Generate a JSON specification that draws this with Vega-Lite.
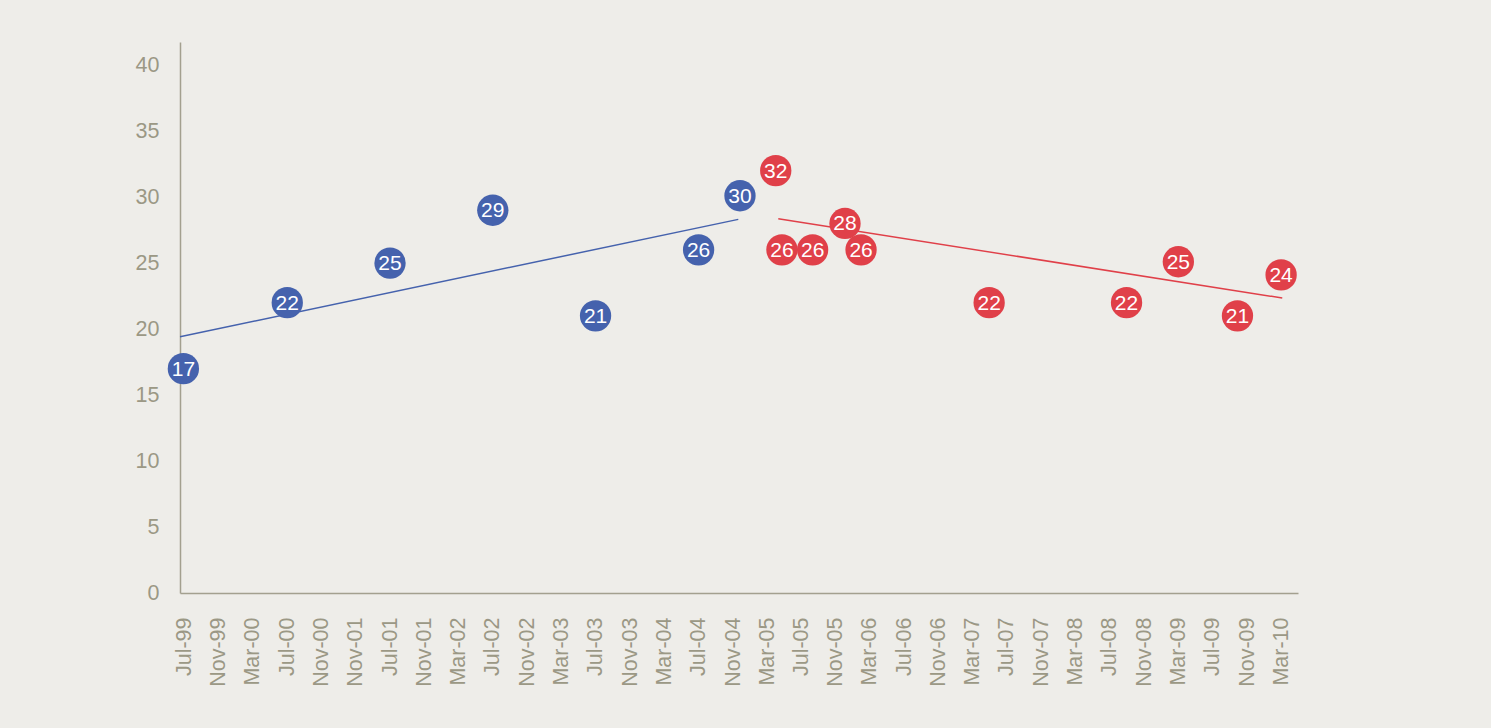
{
  "$schema": "https://vega.github.io/schema/vega-lite/v6.json",
  "width": 1118,
  "height": 551,
  "autosize": {"type": "none"},
  "padding": {"left": 180, "top": 42, "right": 193, "bottom": 135},
  "background": "#eeede9",
  "config": {
    "view": {"stroke": null},
    "font": "Liberation Sans",
    "axis": {
      "domainColor": "#a3a08f",
      "domainWidth": 1.5,
      "ticks": false,
      "grid": false,
      "labelColor": "#9b9885",
      "labelFont": "Liberation Sans",
      "labelFontSize": 21.5,
      "title": null
    }
  },
  "datasets": {
    "points": [
      {"date": "1999-06-28", "v": 17, "s": "a"},
      {"date": "2000-07-01", "v": 22, "s": "a"},
      {"date": "2001-07-01", "v": 25, "s": "a"},
      {"date": "2002-07-01", "v": 29, "s": "a"},
      {"date": "2003-07-01", "v": 21, "s": "a"},
      {"date": "2004-07-01", "v": 26, "s": "a"},
      {"date": "2004-11-25", "v": 30.1, "s": "a"},
      {"date": "2005-04-01", "v": 32, "s": "b"},
      {"date": "2005-04-23", "v": 26, "s": "b"},
      {"date": "2005-08-10", "v": 26, "s": "b"},
      {"date": "2005-12-03", "v": 28, "s": "b"},
      {"date": "2006-01-29", "v": 26, "s": "b"},
      {"date": "2007-04-29", "v": 22, "s": "b"},
      {"date": "2008-08-29", "v": 22, "s": "b"},
      {"date": "2009-03-01", "v": 25.1, "s": "b"},
      {"date": "2009-09-27", "v": 21, "s": "b"},
      {"date": "2010-03-01", "v": 24.1, "s": "b"}
    ],
    "trend": [
      {"date": "1999-06-16", "v": 19.42, "s": "a"},
      {"date": "2004-11-19", "v": 28.31, "s": "a"},
      {"date": "2005-04-10", "v": 28.36, "s": "b"},
      {"date": "2010-03-05", "v": 22.35, "s": "b"}
    ]
  },
  "encoding": {
    "x": {
      "field": "date",
      "type": "temporal",
      "scale": {
        "type": "utc",
        "domain": [
          {"year": 1999, "month": 6, "date": 16, "utc": true},
          {"year": 2010, "month": 4, "date": 30, "utc": true}
        ]
      },
      "axis": {
        "labelAngle": 270,
        "labelPadding": 24,
        "labelAlign": "right",
        "labelBaseline": "middle",
        "labelOverlap": false,
        "labelExpr": "utcFormat(datum.value, '%b-%y') == 'Mar-01' ? 'Nov-01' : utcFormat(datum.value, '%b-%y')",
        "values": [
          {"year": 1999, "month": 7, "date": 1, "utc": true},
          {"year": 1999, "month": 11, "date": 1, "utc": true},
          {"year": 2000, "month": 3, "date": 1, "utc": true},
          {"year": 2000, "month": 7, "date": 1, "utc": true},
          {"year": 2000, "month": 11, "date": 1, "utc": true},
          {"year": 2001, "month": 3, "date": 1, "utc": true},
          {"year": 2001, "month": 7, "date": 1, "utc": true},
          {"year": 2001, "month": 11, "date": 1, "utc": true},
          {"year": 2002, "month": 3, "date": 1, "utc": true},
          {"year": 2002, "month": 7, "date": 1, "utc": true},
          {"year": 2002, "month": 11, "date": 1, "utc": true},
          {"year": 2003, "month": 3, "date": 1, "utc": true},
          {"year": 2003, "month": 7, "date": 1, "utc": true},
          {"year": 2003, "month": 11, "date": 1, "utc": true},
          {"year": 2004, "month": 3, "date": 1, "utc": true},
          {"year": 2004, "month": 7, "date": 1, "utc": true},
          {"year": 2004, "month": 11, "date": 1, "utc": true},
          {"year": 2005, "month": 3, "date": 1, "utc": true},
          {"year": 2005, "month": 7, "date": 1, "utc": true},
          {"year": 2005, "month": 11, "date": 1, "utc": true},
          {"year": 2006, "month": 3, "date": 1, "utc": true},
          {"year": 2006, "month": 7, "date": 1, "utc": true},
          {"year": 2006, "month": 11, "date": 1, "utc": true},
          {"year": 2007, "month": 3, "date": 1, "utc": true},
          {"year": 2007, "month": 7, "date": 1, "utc": true},
          {"year": 2007, "month": 11, "date": 1, "utc": true},
          {"year": 2008, "month": 3, "date": 1, "utc": true},
          {"year": 2008, "month": 7, "date": 1, "utc": true},
          {"year": 2008, "month": 11, "date": 1, "utc": true},
          {"year": 2009, "month": 3, "date": 1, "utc": true},
          {"year": 2009, "month": 7, "date": 1, "utc": true},
          {"year": 2009, "month": 11, "date": 1, "utc": true},
          {"year": 2010, "month": 3, "date": 1, "utc": true}
        ]
      }
    },
    "y": {
      "field": "v",
      "type": "quantitative",
      "scale": {"domain": [0, 41.75], "nice": false, "zero": true},
      "axis": {"values": [0, 5, 10, 15, 20, 25, 30, 35, 40], "labelPadding": 21}
    },
    "color": {
      "field": "s",
      "type": "nominal",
      "scale": {"domain": ["a", "b"], "range": ["#4562ad", "#e04049"]},
      "legend": null
    }
  },
  "layer": [
    {
      "data": {"name": "trend"},
      "mark": {"type": "line", "strokeWidth": 1.5}
    },
    {
      "data": {"name": "points"},
      "mark": {"type": "circle", "size": 980, "opacity": 1}
    },
    {
      "data": {"name": "points"},
      "mark": {"type": "text", "color": "white", "fontSize": 21, "baseline": "middle", "align": "center", "dy": 1, "font": "Liberation Sans"},
      "encoding": {
        "text": {"field": "v", "type": "quantitative", "format": ".0f"},
        "color": {"value": "white"}
      }
    }
  ]
}
